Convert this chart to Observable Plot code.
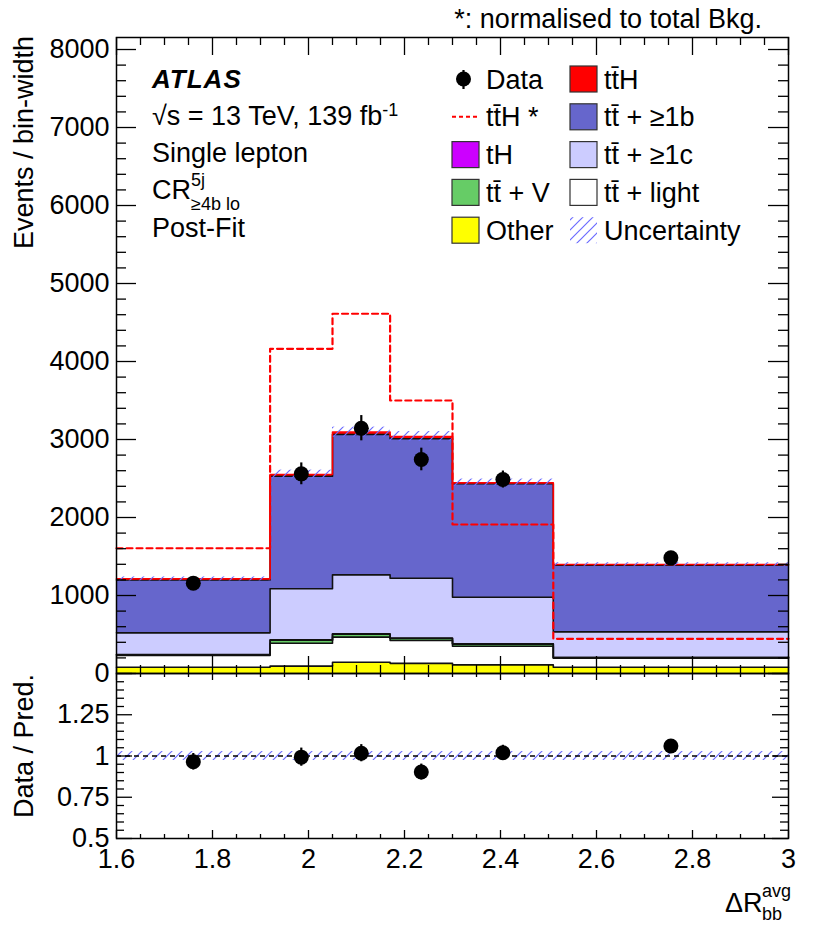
<!DOCTYPE html>
<html><head><meta charset="utf-8">
<script src="https://cdn.jsdelivr.net/npm/d3@7"></script>
<script src="https://cdn.jsdelivr.net/npm/@observablehq/plot@0.6"></script>
<style>
html,body{margin:0;padding:0;background:#fff;}
#wrap{position:relative;width:830px;height:936px;overflow:hidden;font-family:"Liberation Sans",Arial,Helvetica,sans-serif;}
#wrap svg{display:block;}
#overlay{position:absolute;left:0;top:0;pointer-events:none;}
</style></head><body>
<svg width="0" height="0" style="position:absolute">
<defs><pattern id="hatch" patternUnits="userSpaceOnUse" width="10" height="10"><path d="M-1,1 L1,-1 M0,10 L10,0 M9,11 L11,9" stroke="#6b6bff" stroke-width="1.2" fill="none"/></pattern></defs></svg>
<div id="wrap"><div id="main"></div><div id="ratio"></div></div>
<script>
// ---------------- data ----------------
const binEdges = [1.6, 1.92, 2.05, 2.17, 2.30, 2.51, 3.0];
const other    = [80, 95, 145, 130, 110, 80];
const ttLight  = [150, 293, 321, 293, 240, 117];
const ttV      = [10, 38, 38, 26, 27, 6];
const tH       = [3, 5, 5, 4, 4, 2];
const ttC      = [278, 655, 756, 769, 597, 329];
const ttB      = [677, 1443, 1799, 1787, 1454, 856];
const ttH      = [15, 22, 30, 29, 12, 8];
const ttHNorm  = [1606, 4163, 4612, 3500, 1910, 445];
const dataVal  = [1158, 2560, 3145, 2744, 2487, 1483];
const dataErr  = [60, 140, 162, 145, 109, 55];
const ratioVal = [0.965, 0.993, 1.017, 0.903, 1.020, 1.061];
const ratioErr = [0.050, 0.055, 0.052, 0.048, 0.045, 0.039];
const uncMain  = [0.021, 0.022, 0.021, 0.021, 0.02, 0.016];
const uncRatio = [0.027, 0.027, 0.027, 0.027, 0.027, 0.027];
const yLabels     = [0, 1000, 2000, 3000, 4000, 5000, 6000, 7000, 8000];
const xLabels     = [1.6, 1.8, 2.0, 2.2, 2.4, 2.6, 2.8, 3.0];
const ratioLabels = [0.5, 0.75, 1, 1.25];

const FONT = '"Liberation Sans",Arial,Helvetica,sans-serif';
const procs = [
  {name: "Other",  vals: other,   fill: "#ffff00"},
  {name: "light",  vals: ttLight, fill: "#ffffff"},
  {name: "ttV",    vals: ttV,     fill: "#66cc66"},
  {name: "tH",     vals: tH,      fill: "#cc00ff"},
  {name: "tt1c",   vals: ttC,     fill: "#ccccff"},
  {name: "tt1b",   vals: ttB,     fill: "#6666cc"},
  {name: "ttH",    vals: ttH,     fill: "#ff0000"}
];
const nb = binEdges.length - 1;
const centers = d3.range(nb).map(i => (binEdges[i] + binEdges[i + 1]) / 2);
const cum = d3.range(nb).map(() => 0);
const layers = procs.map(p => {
  const rects = p.vals.map((v, i) => {
    const r = {x1: binEdges[i], x2: binEdges[i + 1], y1: cum[i], y2: cum[i] + v};
    cum[i] += v;
    return r;
  });
  const top = cum.map((c, i) => ({x: binEdges[i], y: c}));
  top.push({x: binEdges[nb], y: cum[nb - 1]});
  return {...p, rects, top};
});
const uncRows = d3.range(nb).map(i => ({x1: binEdges[i], x2: binEdges[i + 1], y1: cum[i] * (1 - uncMain[i]), y2: cum[i] * (1 + uncMain[i])}));
const normLine = ttHNorm.map((v, i) => ({x: binEdges[i], y: v})).concat([{x: binEdges[nb], y: ttHNorm[nb - 1]}]);
const pts = d3.range(nb).map(i => ({x: centers[i], y: dataVal[i], lo: dataVal[i] - dataErr[i], hi: dataVal[i] + dataErr[i]}));
const rpts = d3.range(nb).map(i => ({x: centers[i], y: ratioVal[i], lo: ratioVal[i] - ratioErr[i], hi: ratioVal[i] + ratioErr[i]}));
const rband = d3.range(nb).map(i => ({x1: binEdges[i], x2: binEdges[i + 1], y1: 1 - uncRatio[i], y2: 1 + uncRatio[i]}));

const xMajor = d3.range(16, 31, 2).map(d => d / 10);
const xMinor = d3.range(32, 61).map(d => d / 20).filter(d => Math.abs(d * 5 - Math.round(d * 5)) > 1e-6);
const yMinor = d3.range(0, 8154, 200).filter(d => d % 1000 !== 0);
const rMajor = [0.5, 0.75, 1, 1.25, 1.5];
const rMinor = d3.range(10, 31).map(d => d / 20).filter(d => Math.abs(d * 4 - Math.round(d * 4)) > 1e-6);

const FW = 672, FH = 636, RH = 165;
function ticks(opt) {
  const {fw, fh, xMaj, xMin, yMaj, yMin, xb, xbm, xt, xtm, yl, ylm} = opt;
  const s = {stroke: "black", strokeWidth: 1.3};
  return [
    Plot.tickX(xMaj, {x: d => d, insetTop: fh - xb, ...s}),
    Plot.tickX(xMin, {x: d => d, insetTop: fh - xbm, ...s}),
    Plot.tickX(xMaj, {x: d => d, insetBottom: fh - xt, ...s}),
    Plot.tickX(xMin, {x: d => d, insetBottom: fh - xtm, ...s}),
    Plot.tickY(yMaj, {y: d => d, insetRight: fw - yl, ...s}),
    Plot.tickY(yMin, {y: d => d, insetRight: fw - ylm, ...s}),
    Plot.tickY(yMaj, {y: d => d, insetLeft: fw - yl, ...s}),
    Plot.tickY(yMin, {y: d => d, insetLeft: fw - ylm, ...s})
  ];
}

const main = Plot.plot({
  width: 830, height: 673, marginLeft: 116, marginRight: 42, marginTop: 37, marginBottom: 0,
  style: {fontFamily: FONT, fontSize: "27px", background: "transparent", overflow: "visible", color: "black"},
  x: {domain: [1.6, 3], axis: null},
  y: {domain: [0, 8154]},
  marks: [
    ...layers.map(l => Plot.rect(l.rects, {x1: "x1", x2: "x2", y1: "y1", y2: "y2", fill: l.fill, shapeRendering: "crispEdges"})),
    ...layers.map(l => Plot.line(l.top, {x: "x", y: "y", curve: "step-after", stroke: l.name === "ttH" ? "#ff0000" : "#111", strokeWidth: 1.6})),
    Plot.rect(uncRows, {x1: "x1", x2: "x2", y1: "y1", y2: "y2", fill: "url(#hatch)"}),
    Plot.line(normLine, {x: "x", y: "y", curve: "step-after", stroke: "#ff0000", strokeWidth: 2.2, strokeDasharray: "6,4"}),
    Plot.ruleX(pts, {x: "x", y1: "lo", y2: "hi", stroke: "black", strokeWidth: 2.2}),
    Plot.dot(pts, {x: "x", y: "y", r: 7.5, fill: "black", stroke: "none"}),
    ...ticks({fw: FW, fh: FH, xMaj: xMajor, xMin: xMinor, yMaj: yLabels, yMin: yMinor, xb: 17, xbm: 8, xt: 18, xtm: 8, yl: 20, ylm: 10}),
    Plot.axisY({ticks: yLabels, tickSize: 0, tickPadding: 7, tickFormat: d => String(d), label: null, fontSize: 27}),
    Plot.frame({stroke: "black", strokeWidth: 1.5})
  ]
});
document.getElementById("main").appendChild(main);

const ratio = Plot.plot({
  width: 830, height: 263, marginLeft: 116, marginRight: 42, marginTop: 0, marginBottom: 98,
  style: {fontFamily: FONT, fontSize: "27px", background: "transparent", overflow: "visible", color: "black"},
  x: {domain: [1.6, 3]},
  y: {domain: [0.5, 1.5]},
  marks: [
    Plot.rect(rband, {x1: "x1", x2: "x2", y1: "y1", y2: "y2", fill: "url(#hatch)"}),
    Plot.ruleY([1], {stroke: "black", strokeWidth: 1.3, strokeDasharray: "5,4"}),
    Plot.ruleX(rpts, {x: "x", y1: "lo", y2: "hi", stroke: "black", strokeWidth: 2.2}),
    Plot.dot(rpts, {x: "x", y: "y", r: 7.5, fill: "black", stroke: "none"}),
    ...ticks({fw: FW, fh: RH, xMaj: xMajor, xMin: xMinor, yMaj: rMajor, yMin: rMinor, xb: 8, xbm: 4, xt: 7, xtm: 4, yl: 16, ylm: 8}),
    Plot.axisX({ticks: xLabels, tickSize: 0, tickPadding: 10, tickFormat: d => String(+d.toFixed(1)), label: null, fontSize: 27}),
    Plot.axisY({ticks: ratioLabels, tickSize: 0, tickPadding: 7, tickFormat: d => String(d), label: null, fontSize: 27}),
    Plot.frame({stroke: "black", strokeWidth: 1.5})
  ]
});
document.getElementById("ratio").appendChild(ratio);

// ---------------- annotations & legend ----------------
const legendLeft = [
  {label: "Data", kind: "data"},
  {label: "tt\u0304H *", kind: "dash"},
  {label: "tH", kind: "box", fill: "#cc00ff"},
  {label: "tt\u0304 + V", kind: "box", fill: "#66cc66"},
  {label: "Other", kind: "box", fill: "#ffff00"}
];
const legendRight = [
  {label: "tt\u0304H", kind: "box", fill: "#ff0000"},
  {label: "tt\u0304 + \u22651b", kind: "box", fill: "#6666cc"},
  {label: "tt\u0304 + \u22651c", kind: "box", fill: "#ccccff"},
  {label: "tt\u0304 + light", kind: "box", fill: "#ffffff"},
  {label: "Uncertainty", kind: "hatch"}
];
const infoLines = ["ATLAS", "\u221As = 13 TeV, 139 fb", "Single lepton", "CR", "Post-Fit"];

const ov = d3.select("#wrap").append("svg").attr("id", "overlay").attr("width", 830).attr("height", 936)
  .style("font-family", FONT).style("font-size", "27px");

ov.append("text").attr("x", 762).attr("y", 28).attr("text-anchor", "end").text("*: normalised to total Bkg.");

const rowY = i => 79 + 37.8 * i;
function legendCol(items, bx, tx) {
  items.forEach((it, i) => {
    const cy = rowY(i);
    if (it.kind === "box") {
      ov.append("rect").attr("x", bx).attr("y", cy - 13).attr("width", 27).attr("height", 26)
        .attr("fill", it.fill).attr("stroke", "#333").attr("stroke-width", 1.2);
    } else if (it.kind === "hatch") {
      ov.append("rect").attr("x", bx).attr("y", cy - 13).attr("width", 27).attr("height", 26).attr("fill", "url(#hatch)");
    } else if (it.kind === "dash") {
      ov.append("line").attr("x1", bx).attr("x2", bx + 27).attr("y1", cy).attr("y2", cy)
        .attr("stroke", "#ff0000").attr("stroke-width", 2).attr("stroke-dasharray", "4,3");
    } else if (it.kind === "data") {
      ov.append("line").attr("x1", bx + 11.5).attr("x2", bx + 11.5).attr("y1", cy - 9).attr("y2", cy + 10)
        .attr("stroke", "black").attr("stroke-width", 2.2);
      ov.append("circle").attr("cx", bx + 11.5).attr("cy", cy).attr("r", 7.5).attr("fill", "black");
    }
    ov.append("text").attr("x", tx).attr("y", cy + 9.5).text(it.label);
  });
}
legendCol(legendLeft, 452, 486);
legendCol(legendRight, 570, 604);

ov.append("text").attr("x", 152).attr("y", 88).attr("font-weight", "bold").attr("font-style", "italic")
  .attr("font-size", 26).attr("letter-spacing", 1).text(infoLines[0]);
const l2 = ov.append("text").attr("x", 152).attr("y", 124.5).text(infoLines[1]);
l2.append("tspan").attr("font-size", 18).attr("dy", -9).text("-1");
ov.append("text").attr("x", 152).attr("y", 162).text(infoLines[2]);
ov.append("text").attr("x", 152).attr("y", 198.5).text(infoLines[3]);
ov.append("text").attr("x", 191).attr("y", 186).attr("font-size", 18).text("5j");
ov.append("text").attr("x", 191).attr("y", 210).attr("font-size", 18).text("\u22654b lo");
ov.append("text").attr("x", 152).attr("y", 237).text(infoLines[4]);

// axis titles
ov.append("text").attr("transform", "translate(33,36) rotate(-90)").attr("text-anchor", "end").text("Events / bin-width");
ov.append("text").attr("transform", "translate(33,674) rotate(-90)").attr("text-anchor", "end").text("Data / Pred.");
ov.append("text").attr("x", 725).attr("y", 912).text("\u0394R");
ov.append("text").attr("x", 762).attr("y", 897).attr("font-size", 18).text("avg");
ov.append("text").attr("x", 762).attr("y", 920).attr("font-size", 18).text("bb");
</script>
</body></html>
